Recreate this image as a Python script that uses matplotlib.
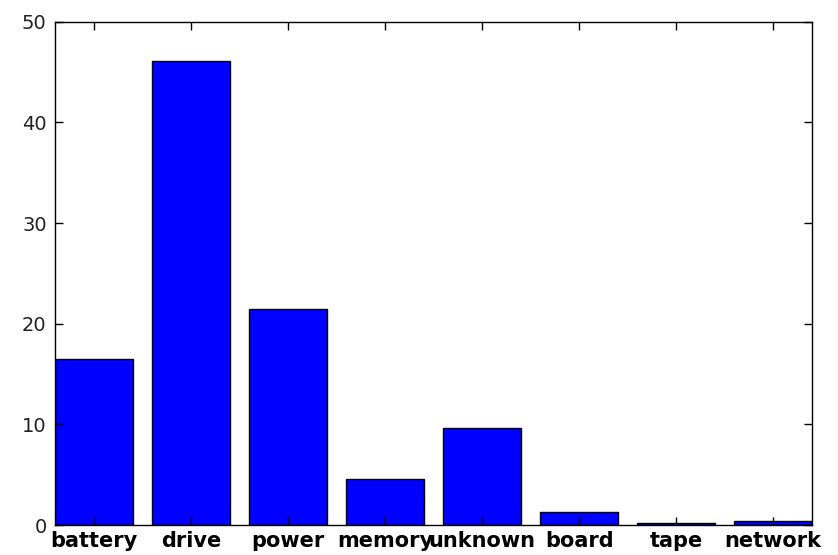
import matplotlib
matplotlib.use("Agg")
import matplotlib.pyplot as plt
import numpy as np

categories = ["battery", "drive", "power", "memory", "unknown", "board", "tape", "network"]
values = [16.5, 46.1, 21.5, 4.6, 9.6, 1.3, 0.25, 0.45]

fig = plt.figure(figsize=(8.38, 5.55), dpi=100)
ax = fig.add_axes([0.0656, 0.054, 0.9034, 0.9066])
x = np.arange(len(categories))
ax.bar(x, values, width=0.8, align="edge", color="#0000ff", edgecolor="black", linewidth=1.0)
ax.set_xlim(0, 7.8)
ax.set_ylim(0, 50)
ax.set_yticks([0, 10, 20, 30, 40, 50])
ax.set_xticks(x + 0.4)
ax.set_xticklabels(categories, fontweight="bold", fontsize=15)
ax.tick_params(axis="both", direction="in", length=6, width=1, top=True, right=True, colors="black", labelcolor="#222222")
ax.tick_params(axis="y", labelsize=14, pad=6)
ax.tick_params(axis="x", pad=4, labelcolor="black")
for s in ax.spines.values():
    s.set_linewidth(1.0)
fig.savefig("out.png", dpi=100)
